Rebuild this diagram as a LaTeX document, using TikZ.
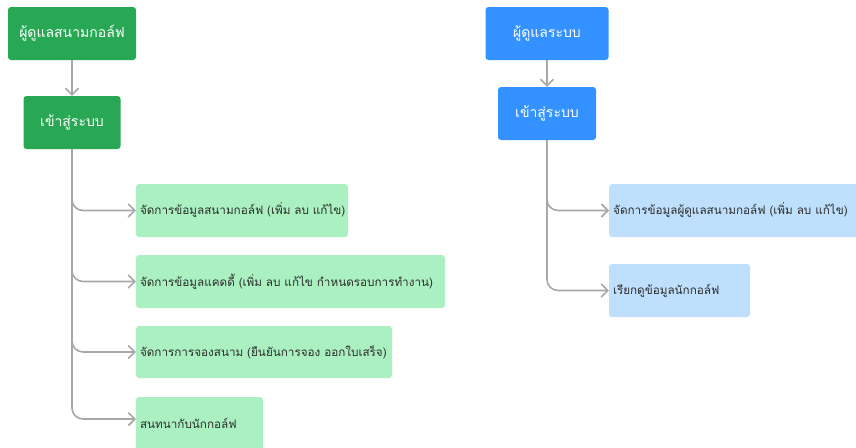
\documentclass[tikz,border=0pt]{standalone}
\usepackage{fontspec}
\newfontfamily\thaifont[Script=Thai]{Loma}
\usetikzlibrary{arrows.meta}
\definecolor{dgreen}{RGB}{40,168,84}
\definecolor{dblue}{RGB}{51,146,255}
\definecolor{lgreen}{RGB}{170,240,193}
\definecolor{lblue}{RGB}{190,224,252}
\definecolor{conn}{RGB}{168,168,168}
\definecolor{txt}{RGB}{45,45,45}
\begin{document}
\begin{tikzpicture}[x=1pt,y=-1pt,
  head/.style={rounded corners=3pt, inner sep=0pt, text=white,
    font=\thaifont\fontsize{14}{16}\selectfont},
  hgreen/.style={head, fill=dgreen},
  hblue/.style={head, fill=dblue},
  child/.style={rounded corners=3pt, inner xsep=4pt, inner ysep=0pt, text=txt,
    align=left, font=\thaifont\fontsize{11.7}{13}\selectfont},
  cgreen/.style={child, fill=lgreen},
  cblue/.style={child, fill=lblue},
  link/.style={draw=conn, line width=1.6pt, rounded corners=11pt,
    -{Straight Barb[length=6.5pt,width=13pt,line width=1.6pt]}}]
\useasboundingbox (0,0) rectangle (856,447);
\clip (0,0) rectangle (856,447);
% left tree
\node[hgreen, minimum width=128pt, minimum height=53pt] (g1) at (72,33.5) {ผู้ดูแลสนามกอล์ฟ};
\node[hgreen, minimum width=97pt, minimum height=53pt] (g2) at (72,122.5) {เข้าสู่ระบบ};
\node[cgreen, text width=204pt, minimum height=53pt] (a) at (242,210.5) {\mbox{จัดการข้อมูลสนามกอล์ฟ (เพิ่ม ลบ แก้ไข)}};
\node[cgreen, text width=301pt, minimum height=53pt] (b) at (290.5,281.5) {\mbox{จัดการข้อมูลแคดดี้ (เพิ่ม ลบ แก้ไข กำหนดรอบการทำงาน)}};
\node[cgreen, text width=248pt, minimum height=52pt] (c) at (264,352) {\mbox{จัดการการจองสนาม (ยืนยันการจอง ออกใบเสร็จ)}};
\node[cgreen, text width=119pt, minimum height=53pt] (d) at (199.5,423.5) {\mbox{สนทนากับนักกอล์ฟ}};
\coordinate (dw) at (136,419);
% right tree
\node[hblue, minimum width=123pt, minimum height=53pt] (b1) at (547,33.5) {ผู้ดูแลระบบ};
\node[hblue, minimum width=98pt, minimum height=53pt] (b2) at (547,113.5) {เข้าสู่ระบบ};
\node[cblue, text width=242pt, minimum height=53pt, anchor=west] (e) at (609,210.5) {\mbox{จัดการข้อมูลผู้ดูแลสนามกอล์ฟ (เพิ่ม ลบ แก้ไข)}};
\node[cblue, text width=133pt, minimum height=53pt] (f) at (679.5,290.5) {\mbox{เรียกดูข้อมูลนักกอล์ฟ}};
% connectors
\draw[link] (g1.south) -- (g2.north);
\draw[link] (g2.south) |- (a.west);
\draw[link] (g2.south) |- (b.west);
\draw[link] (g2.south) |- (c.west);
\draw[link] (g2.south) |- (dw);
\draw[link] (b1.south) -- (b2.north);
\draw[link] (b2.south) |- (e.west);
\draw[link] (b2.south) |- (f.west);
\end{tikzpicture}
\end{document}
